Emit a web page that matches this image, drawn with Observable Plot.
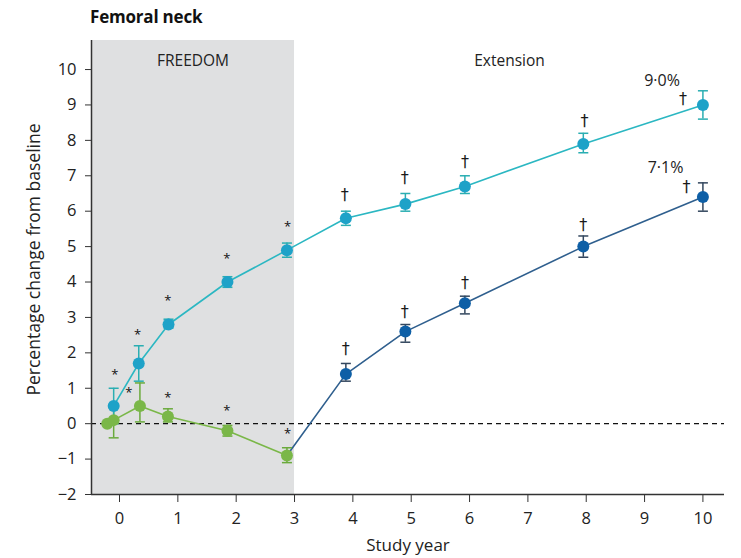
<!DOCTYPE html>
<html>
<head>
<meta charset="utf-8">
<script src="https://cdn.jsdelivr.net/npm/d3@7"></script>
<script src="https://cdn.jsdelivr.net/npm/@observablehq/plot@0.6"></script>
<style>
  html, body { margin: 0; padding: 0; background: #fff; }
  #wrap { position: relative; width: 741px; height: 558px; font-family: "Open Sans", Lato, sans-serif; }
  #title { position: absolute; left: 90px; top: 5px; font-size: 17px; font-weight: bold; color: #111; letter-spacing: -0.2px; }
  #chart { position: absolute; left: 0; top: 0; }
</style>
</head>
<body>
<div id="wrap">
  <div id="chart"></div>
  <div id="title">Femoral neck</div>
</div>
<script>
// ---- data ----
const xDomain = [-0.48, 10.37];
const yDomain = [-2, 10.82];
const xTicks = [0, 1, 2, 3, 4, 5, 6, 7, 8, 9, 10];
const yTicks = [-2, -1, 0, 1, 2, 3, 4, 5, 6, 7, 8, 9, 10];
const xTitle = "Study year";
const yTitle = "Percentage change from baseline";

const phaseNames = ["FREEDOM", "Extension"];
const phaseStart = [-0.48, 3];
const phaseEnd = [3, 10.37];
const phaseLabelY = [10.25, 10.25];

// long-term denosumab (cyan)
const cyanYear = [-0.1, 0.33, 0.84, 1.85, 2.87, 3.88, 4.9, 5.92, 7.95, 10.0];
const cyanMean = [0.5, 1.7, 2.8, 4.0, 4.9, 5.8, 6.2, 6.7, 7.9, 9.0];
const cyanLow  = [0.0, 1.2, 2.7, 3.85, 4.7, 5.6, 6.0, 6.5, 7.65, 8.6];
const cyanHigh = [1.0, 2.2, 2.95, 4.15, 5.1, 6.0, 6.5, 7.0, 8.2, 9.4];

// placebo in FREEDOM (green)
const greenYear = [-0.21, -0.1, 0.35, 0.83, 1.85, 2.87];
const greenMean = [0.0, 0.1, 0.5, 0.2, -0.2, -0.9];
const greenLow  = [0.0, -0.4, 0.05, 0.05, -0.35, -1.1];
const greenHigh = [0.0, 0.45, 1.15, 0.42, -0.05, -0.68];

// crossover denosumab in extension (dark blue)
const blueYear = [3.88, 4.9, 5.92, 7.95, 10.0];
const blueMean = [1.4, 2.6, 3.4, 5.0, 6.4];
const blueLow  = [1.2, 2.3, 3.1, 4.7, 6.0];
const blueHigh = [1.7, 2.8, 3.6, 5.3, 6.8];

// significance markers
const starX = [-0.08, 0.16, 0.31, 0.83, 0.83, 1.84, 1.84, 2.88, 2.88];
const starY = [1.45, 0.95, 2.6, 3.55, 0.82, 4.75, 0.44, 5.63, -0.2];
const daggerX = [3.86, 4.89, 5.92, 7.97, 9.66, 3.88, 4.89, 5.92, 7.95, 9.72];
const daggerY = [6.45, 6.93, 7.38, 8.56, 9.18, 2.11, 3.15, 3.97, 5.61, 6.68];

const endLabels = ["9·0%", "7·1%"];
const endLabelX = [9.3, 9.36];
const endLabelY = [9.69, 7.23];

// ---- build tables ----
const zip = (xs, m, lo, hi) => xs.map((x, i) => ({x, y: m[i], lo: lo[i], hi: hi[i]}));
const cyan = zip(cyanYear, cyanMean, cyanLow, cyanHigh);
const green = zip(greenYear, greenMean, greenLow, greenHigh);
const blue = zip(blueYear, blueMean, blueLow, blueHigh);
const blueLine = [green[green.length - 1], ...blue];
const phases = phaseNames.map((n, i) => ({name: n, x1: phaseStart[i], x2: phaseEnd[i], ly: phaseLabelY[i]}));
const stars = starX.map((x, i) => ({x, y: starY[i]}));
const daggers = daggerX.map((x, i) => ({x, y: daggerY[i]}));
const ends = endLabels.map((t, i) => ({t, x: endLabelX[i], y: endLabelY[i]}));

const cap = {draw(ctx, size) { const w = 5; ctx.moveTo(-w, 0); ctx.lineTo(w, 0); }};

const C = {cyanLine: "#2bb7c2", cyanDot: "#1ea2c8", cyanErr: "#2aaeb2",
           blueLine: "#2f5f8e", blueDot: "#0e5fa6", blueErr: "#33475e",
           green: "#7ab748", greenErr: "#6aaa3c"};

function errMarks(data, color) {
  const d = data.filter(v => v.hi !== v.lo);
  return [
    Plot.ruleX(d, {x: "x", y1: "lo", y2: "hi", stroke: color, strokeWidth: 1.5}),
    Plot.dot(d, {x: "x", y: "hi", symbol: cap, stroke: color, strokeWidth: 1.5, fill: "none"}),
    Plot.dot(d, {x: "x", y: "lo", symbol: cap, stroke: color, strokeWidth: 1.5, fill: "none"})
  ];
}

const FONT = "'Open Sans', Lato, sans-serif";

const chart = Plot.plot({
  width: 741,
  height: 558,
  marginLeft: 91,
  marginRight: 17,
  marginTop: 40,
  marginBottom: 64,
  style: {fontFamily: FONT, fontSize: "16px", color: "#222", background: "white"},
  x: {domain: xDomain},
  y: {domain: yDomain},
  marks: [
    Plot.rectY(phases.slice(0, 1), {x1: "x1", x2: "x2", y1: yDomain[0], y2: yDomain[1], fill: "#dfe0e1"}),
    Plot.text(phases, {x: d => (d.x1 + d.x2) / 2, y: "ly", text: "name", fontSize: 15.5, fill: "#222"}),
    Plot.ruleY([0], {stroke: "#111", strokeWidth: 1.3, strokeDasharray: "5,4"}),
    Plot.ruleX([xDomain[0]], {stroke: "#333", strokeWidth: 1.5}),
    Plot.ruleY([yDomain[0]], {stroke: "#333", strokeWidth: 1.5}),
    Plot.axisX({ticks: xTicks, tickSize: 8, tickPadding: 10, label: null, fontSize: 16.5, stroke: "#333", fill: "#222"}),
    Plot.axisY({ticks: yTicks, tickSize: 6, tickPadding: 9, tickFormat: d => d < 0 ? "\u2212" + Math.abs(d) : String(d), label: null, fontSize: 16.5, stroke: "#333", fill: "#222"}),
    Plot.text([xTitle], {frameAnchor: "bottom", dy: 56, text: d => d, fontSize: 17, fill: "#222"}),
    Plot.text([yTitle], {frameAnchor: "left", textAnchor: "middle", dx: -57, dy: -8, rotate: -90, text: d => d, fontSize: 17.5, fill: "#222"}),
    Plot.line(green, {x: "x", y: "y", stroke: C.green, strokeWidth: 1.6}),
    Plot.line(blueLine, {x: "x", y: "y", stroke: C.blueLine, strokeWidth: 1.6}),
    Plot.line(cyan, {x: "x", y: "y", stroke: C.cyanLine, strokeWidth: 1.6}),
    ...errMarks(green, C.greenErr),
    ...errMarks(blue, C.blueErr),
    ...errMarks(cyan, C.cyanErr),
    Plot.dot(green, {x: "x", y: "y", r: 6, fill: C.green}),
    Plot.dot(blue, {x: "x", y: "y", r: 6, fill: C.blueDot}),
    Plot.dot(cyan, {x: "x", y: "y", r: 6, fill: C.cyanDot}),
    Plot.text(stars, {x: "x", y: "y", text: () => "*", fontSize: 13, dy: 3, fill: "#111"}),
    Plot.text(daggers, {x: "x", y: "y", text: () => "\u2020", fontSize: 16, fontFamily: "'DejaVu Sans', sans-serif", fill: "#1a1a1a"}),
    Plot.text(ends, {x: "x", y: "y", text: "t", fontSize: 16, fill: "#222"})
  ]
});
document.getElementById("chart").appendChild(chart);
</script>
</body>
</html>
